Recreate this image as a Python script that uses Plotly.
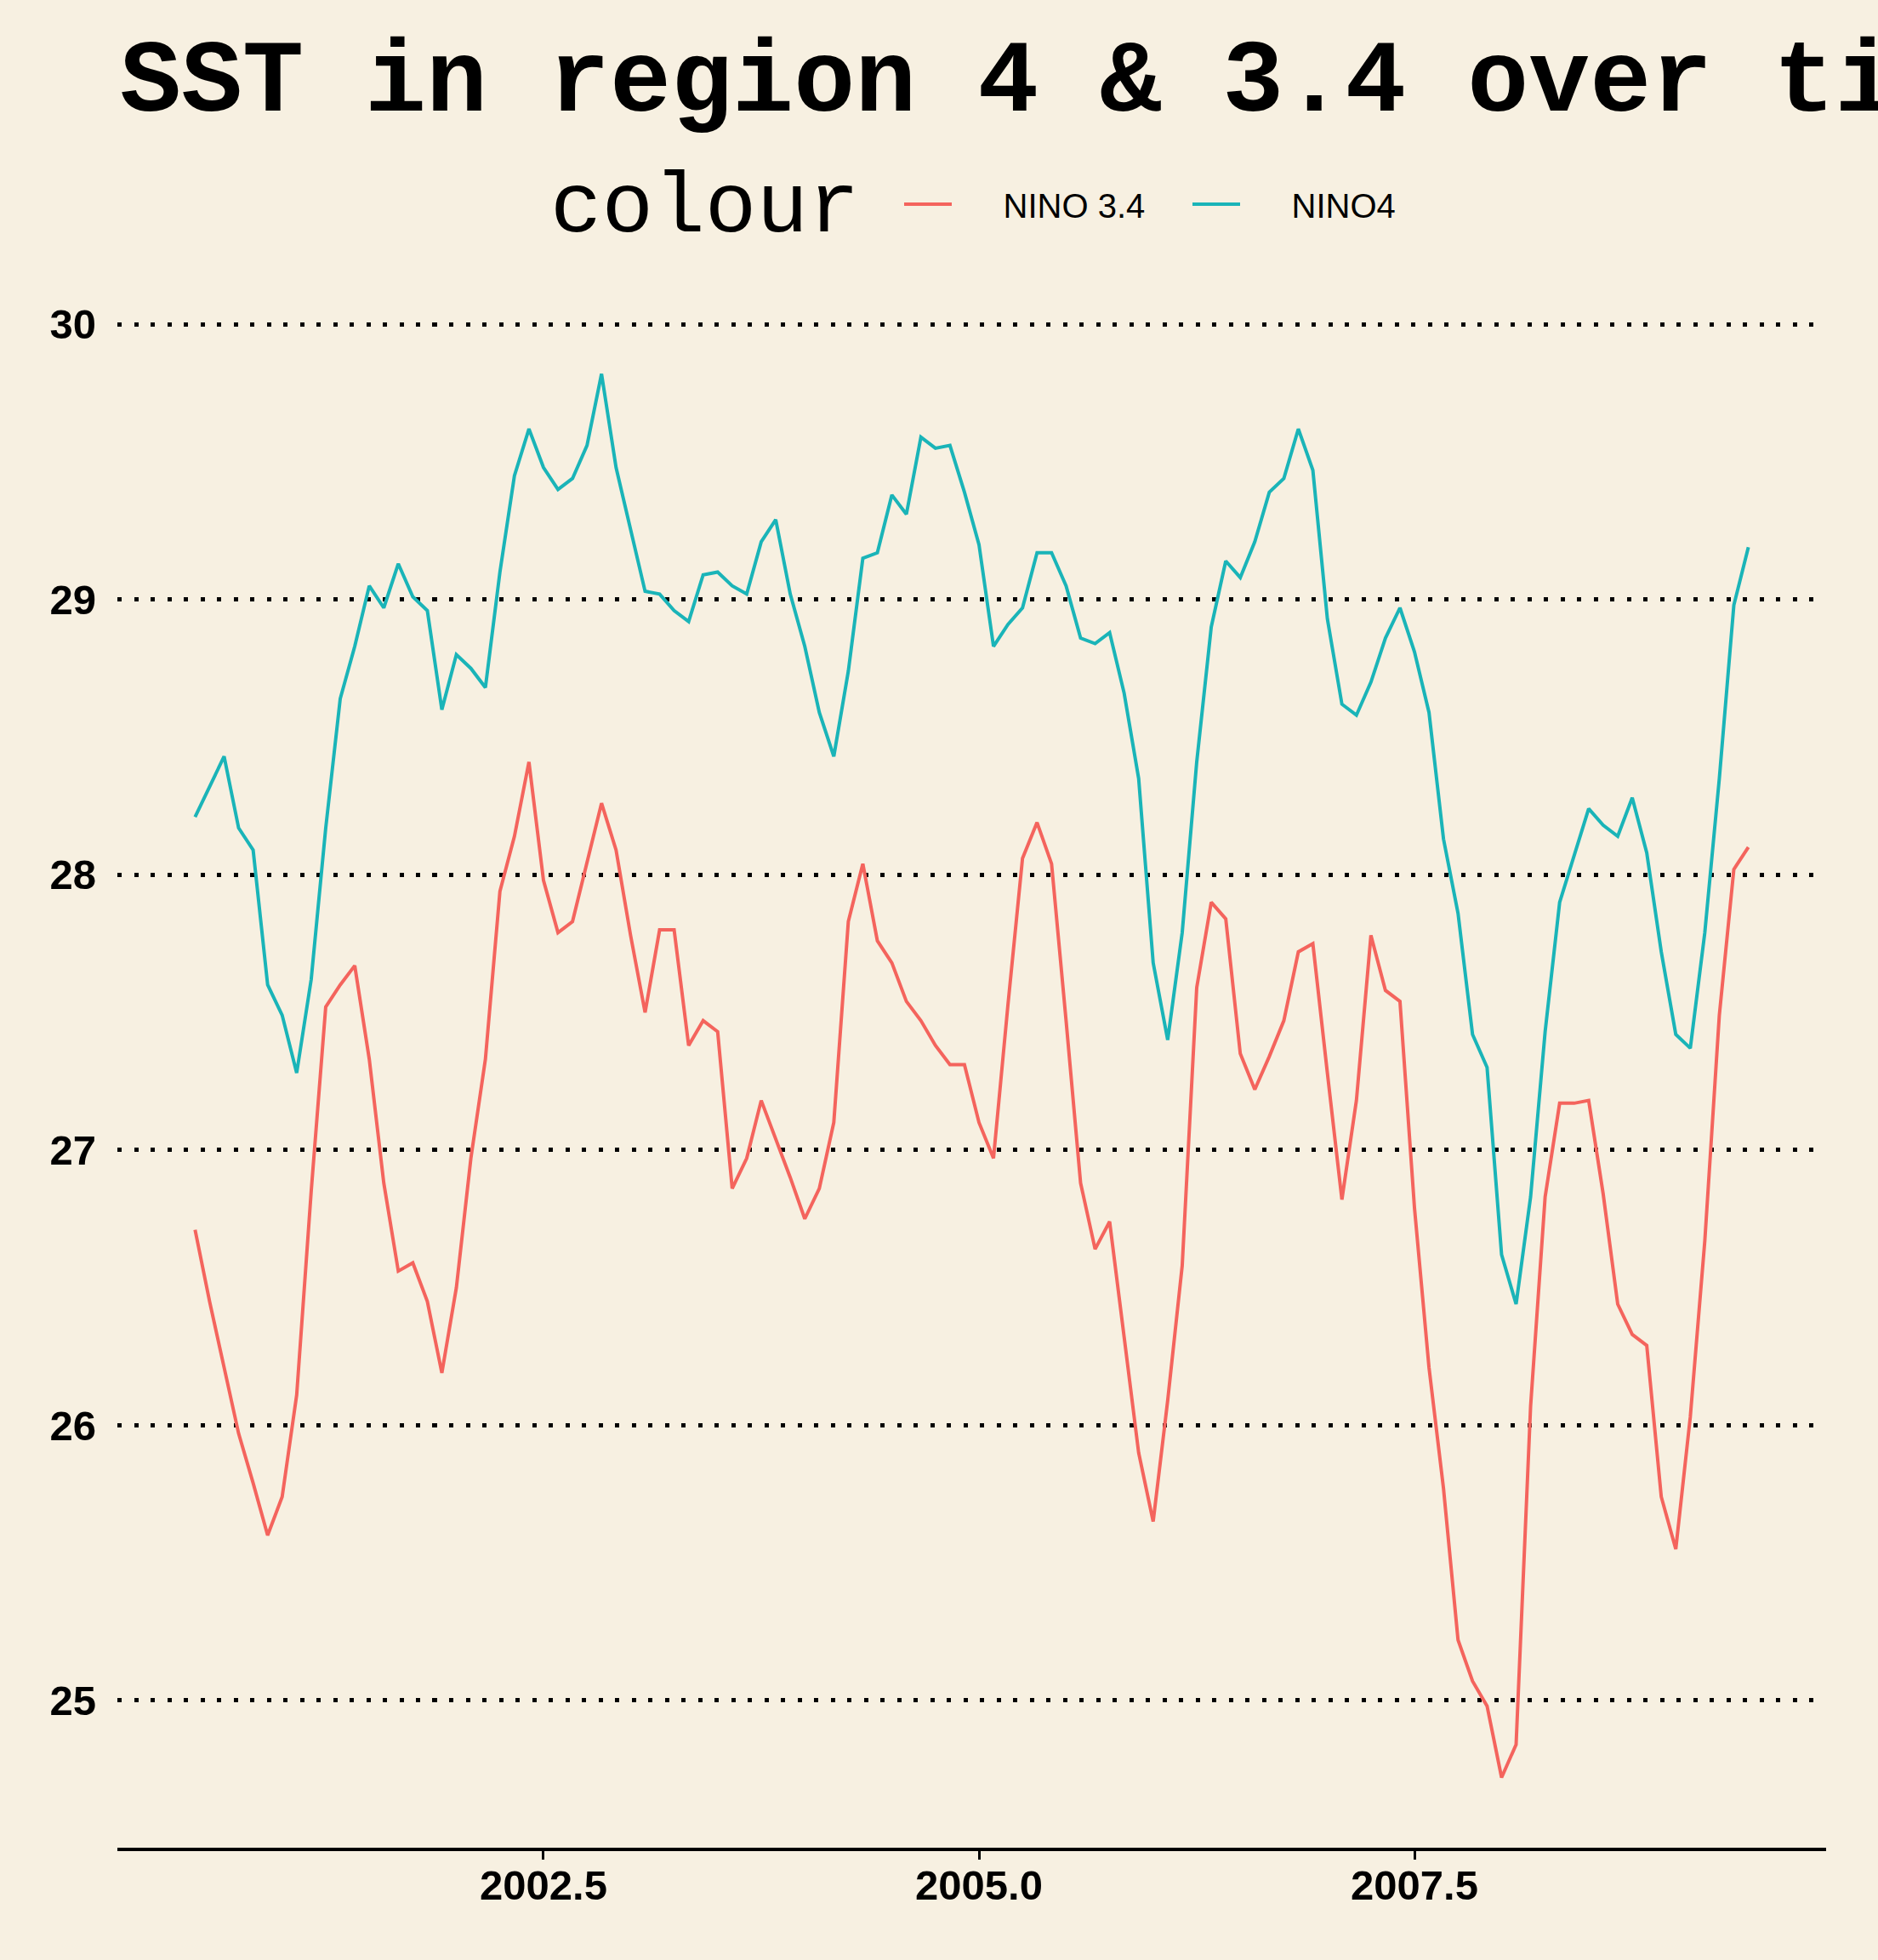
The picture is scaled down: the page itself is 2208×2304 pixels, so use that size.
import plotly.graph_objects as go

# Monthly time index (decimal years), July 2000 .. June 2009
months = list(range(108))
time = [2000.5 + m / 12 for m in months]

nino34 = [
    26.71, 26.45, 26.21, 25.97, 25.79, 25.60, 25.74, 26.11, 26.85, 27.52,
    27.60, 27.67, 27.33, 26.88, 26.56, 26.59, 26.45, 26.19, 26.50, 26.97,
    27.33, 27.94, 28.14, 28.41, 27.98, 27.79, 27.83, 28.05, 28.26, 28.09,
    27.78, 27.50, 27.80, 27.80, 27.38, 27.47, 27.43, 26.86, 26.97, 27.18,
    27.04, 26.90, 26.75, 26.86, 27.10, 27.83, 28.04, 27.76, 27.68, 27.54,
    27.47, 27.38, 27.31, 27.31, 27.10, 26.97, 27.53, 28.06, 28.19, 28.04,
    27.47, 26.88, 26.64, 26.74, 26.32, 25.90, 25.65, 26.09, 26.58, 27.59,
    27.90, 27.84, 27.35, 27.22, 27.34, 27.47, 27.72, 27.75, 27.28, 26.82,
    27.18, 27.78, 27.58, 27.54, 26.79, 26.21, 25.77, 25.22, 25.07, 24.98,
    24.72, 24.84, 26.07, 26.83, 27.17, 27.17, 27.18, 26.84, 26.44, 26.33,
    26.29, 25.74, 25.55, 26.03, 26.67, 27.49, 28.02, 28.10,
]

nino4 = [
    28.21, 28.32, 28.43, 28.17, 28.09, 27.60, 27.49, 27.28, 27.62, 28.17,
    28.64, 28.83, 29.05, 28.97, 29.13, 29.01, 28.96, 28.60, 28.80, 28.75,
    28.68, 29.10, 29.45, 29.62, 29.48, 29.40, 29.44, 29.56, 29.82, 29.48,
    29.26, 29.03, 29.02, 28.96, 28.92, 29.09, 29.10, 29.05, 29.02, 29.21,
    29.29, 29.02, 28.83, 28.59, 28.43, 28.74, 29.15, 29.17, 29.38, 29.31,
    29.59, 29.55, 29.56, 29.39, 29.20, 28.83, 28.91, 28.97, 29.17, 29.17,
    29.05, 28.86, 28.84, 28.88, 28.66, 28.35, 27.68, 27.40, 27.79, 28.41,
    28.90, 29.14, 29.08, 29.21, 29.39, 29.44, 29.62, 29.47, 28.93, 28.62,
    28.58, 28.70, 28.86, 28.97, 28.81, 28.59, 28.13, 27.86, 27.42, 27.30,
    26.62, 26.44, 26.83, 27.43, 27.90, 28.07, 28.24, 28.18, 28.14, 28.28,
    28.08, 27.72, 27.42, 27.37, 27.79, 28.35, 28.98, 29.19,
]

series_names = ["NINO 3.4", "NINO4"]
series_colors = ["#F4645D", "#1AB4B8"]

x_tickvals = [2002.5, 2005.0, 2007.5]
x_ticktext = ["2002.5", "2005.0", "2007.5"]
y_tickvals = [25, 26, 27, 28, 29, 30]
y_ticktext = ["25", "26", "27", "28", "29", "30"]

BG = "#F7F0E1"
PAD = "\u00a0" * 5  # gap between legend key and label

fig = go.Figure()
for name, vals, col in zip(series_names, [nino34, nino4], series_colors):
    fig.add_trace(go.Scatter(x=time, y=vals, mode="lines", name=PAD + name,
                             line=dict(color=col, width=4)))

fig.update_layout(
    width=2208, height=2304, autosize=False,
    paper_bgcolor=BG, plot_bgcolor=BG,
    margin=dict(l=138, r=61, t=357, b=132),
    title=dict(
        text="<b>SST in region 4 &amp; 3.4 over time</b>",
        font=dict(family="Liberation Mono", size=120, color="black"),
        x=141 / 2208, xanchor="left", xref="container",
        y=1 - 88 / 2304, yanchor="middle", yref="container",
    ),
    showlegend=True,
    legend=dict(
        orientation="h",
        x=(1058 - 138) / 2009, xanchor="left",
        y=1 + (357 - 240) / 1815, yanchor="middle",
        bgcolor="rgba(0,0,0,0)",
        font=dict(family="Liberation Sans", size=40, color="black"),
        itemwidth=56,
        entrywidth=268,
    ),
    annotations=[dict(
        text="colour", xref="paper", yref="paper",
        x=(645 - 138) / 2009, xanchor="left",
        y=1 + (357 - 245) / 1815, yanchor="middle",
        showarrow=False,
        font=dict(family="Liberation Mono", size=101, color="black"),
    )],
    xaxis=dict(
        range=[2000.054, 2009.863],
        tickvals=x_tickvals, ticktext=x_ticktext,
        showgrid=False, zeroline=False,
        showline=True, linecolor="black", linewidth=4.3,
        ticks="outside", ticklen=10, tickwidth=3, tickcolor="black",
        ticklabelstandoff=-12,
        tickfont=dict(family="Liberation Sans", size=49, color="black", weight="bold"),
    ),
    yaxis=dict(
        range=[24.465, 30.075],
        tickvals=y_tickvals, ticktext=y_ticktext,
        showgrid=True, gridcolor="black", gridwidth=4.5, griddash="5px,14.5px",
        zeroline=False, showline=False, ticks="",
        ticklabelstandoff=24,
        tickfont=dict(family="Liberation Sans", size=49, color="black", weight="bold"),
    ),
)

fig.write_html(
    "out.html",
    config={"displayModeBar": False},
    post_script="document.body.style.margin='0';document.body.style.padding='0';"
                "document.body.style.background='" + BG + "';",
)
